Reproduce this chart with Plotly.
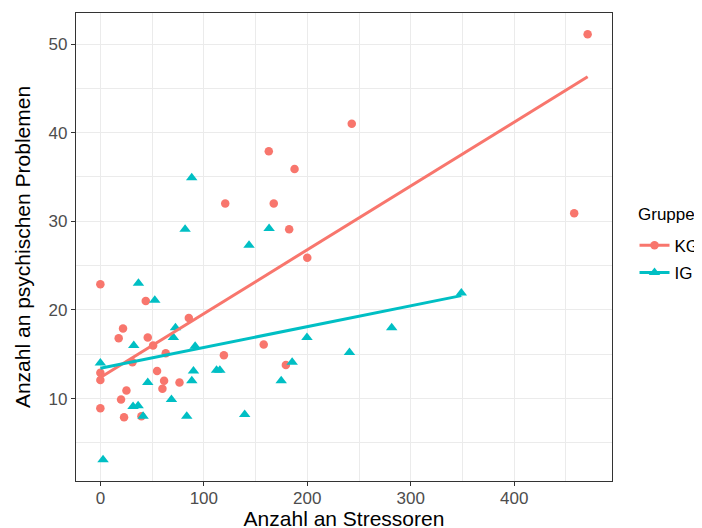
import numpy as np
import plotly.graph_objects as go

# KG group (Kontrollgruppe)
kg_x = [0, 43.9, 21.9, 17.7, 45.8, 51, 85.5, 31, 63.2, 119.4, 0, 0, 54.8, 61.6, 60,
        76.5, 25.2, 20, 0, 22.9, 39.7, 162.8, 187.7, 120.7, 167.6, 182.5, 200, 157.9,
        179.3, 243, 471, 458]
kg_y = [22.9, 21.0, 17.9, 16.8, 16.9, 16.0, 19.1, 14.1, 15.1, 14.9, 12.9, 12.1, 13.1, 12.0, 11.1,
        11.8, 10.9, 9.9, 8.9, 7.9, 8.0, 37.9, 35.9, 32.0, 32.0, 29.1, 25.9, 16.1,
        13.8, 41.0, 51.1, 30.9]

# IG group (Interventionsgruppe)
ig_x = [81.9, 36.8, 52.6, 72.6, 70.6, 32.3, 91.6, 0, 90, 112.3, 115.5, 45.8, 88.4, 68.7,
        31.6, 36.5, 41.3, 83.5, 2.6, 88.3, 143.7, 163.1, 348.9, 281.6, 199.7, 240.8,
        185.4, 174.8, 139.5]
ig_y = [29.1, 23.0, 21.1, 18.0, 16.9, 16.0, 15.9, 14.0, 13.1, 13.2, 13.2, 11.8, 12.0, 9.9,
        9.1, 9.2, 8.0, 8.0, 3.1, 34.9, 27.3, 29.2, 21.9, 18.0, 16.9, 15.2,
        14.1, 12.0, 8.2]

groups = ["KG", "IG"]
legend_title = "Gruppe"
colors = {"KG": "#F8766D", "IG": "#00BFC4"}
symbols = {"KG": "circle", "IG": "triangle-up"}
sizes = {"KG": 8.5, "IG": 10}
data = {"KG": (kg_x, kg_y), "IG": (ig_x, ig_y)}

x_ticks = [0, 100, 200, 300, 400]
y_ticks = [10, 20, 30, 40, 50]

fig = go.Figure()
for g in groups:
    xs, ys = data[g]
    fig.add_trace(go.Scatter(x=xs, y=ys, mode="markers", showlegend=False, legendgroup=g,
                             marker=dict(color=colors[g], symbol=symbols[g], size=sizes[g],
                                         line=dict(width=0))))
for g in groups:
    xs, ys = data[g]
    b, a = np.polyfit(xs, ys, 1)
    lx = np.array([min(xs), max(xs)])
    fig.add_trace(go.Scatter(x=lx, y=a + b * lx, mode="lines", showlegend=False, legendgroup=g,
                             line=dict(color=colors[g], width=3)))
for g in groups:
    fig.add_trace(go.Scatter(x=[None], y=[None], mode="lines+markers", name=g, legendgroup=g,
                             line=dict(color=colors[g], width=3),
                             marker=dict(color=colors[g], symbol=symbols[g], size=sizes[g])))

allx = kg_x + ig_x
ally = kg_y + ig_y
xr = [min(allx), max(allx)]
yr = [min(ally), max(ally)]
xe = 0.05 * (xr[1] - xr[0])
ye = 0.05 * (yr[1] - yr[0])

font_family = "Liberation Sans, Arial, sans-serif"
axis_common = dict(showline=True, mirror=True, linecolor="#333333", linewidth=1.2,
                   ticks="outside", ticklen=4, tickcolor="#333333", tickwidth=1,
                   showgrid=True, gridcolor="#EBEBEB", gridwidth=1.2, zeroline=False,
                   automargin=False,
                   tickfont=dict(size=17, color="#4D4D4D", family=font_family))

fig.update_layout(
    width=694, height=528,
    margin=dict(l=68, r=90, t=5, b=54.5, autoexpand=False),
    plot_bgcolor="white", paper_bgcolor="white",
    font=dict(family=font_family, color="black"),
    xaxis=dict(range=[xr[0] - xe, xr[1] + xe], tickvals=x_ticks, ticklabelstandoff=-3,
               title=dict(text="Anzahl an Stressoren", font=dict(size=21), standoff=3),
               minor=dict(dtick=50, tick0=50, showgrid=True, gridcolor="#EBEBEB", gridwidth=0.6, ticks=""),
               **axis_common),
    yaxis=dict(range=[yr[0] - ye, yr[1] + ye], tickvals=y_ticks,
               title=dict(text="Anzahl an psychischen Problemen", font=dict(size=21), standoff=12),
               minor=dict(dtick=5, tick0=5, showgrid=True, gridcolor="#EBEBEB", gridwidth=0.6, ticks=""),
               **axis_common),
    legend=dict(x=1.042, y=0.541, xanchor="left", yanchor="top",
                font=dict(size=17), itemwidth=30, tracegroupgap=2,
                bgcolor="rgba(0,0,0,0)"),
    annotations=[dict(text=legend_title, xref="paper", yref="paper", x=1.0456, y=0.5688,
                      xanchor="left", yanchor="middle", showarrow=False,
                      font=dict(size=17, color="black"))],
)

fig.write_html("out.html")
